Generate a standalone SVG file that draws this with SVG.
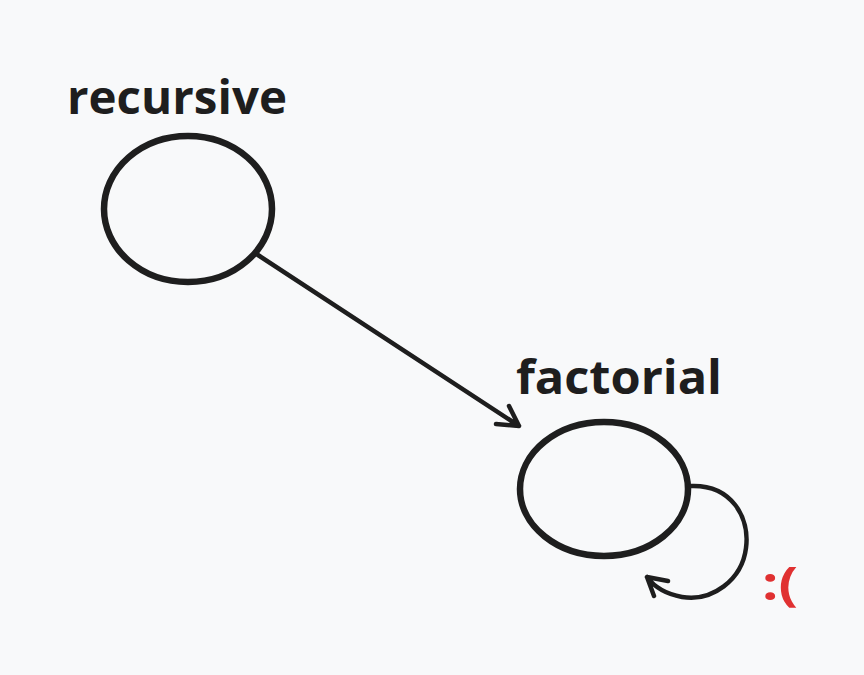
<svg xmlns="http://www.w3.org/2000/svg" width="864" height="675" viewBox="0 0 864 675">
<style>
.bg{fill:#f8f9fa}
.node{fill:none;stroke:#1e1e1e;stroke-width:6.5}
.edge{fill:none;stroke:#1e1e1e;stroke-width:4.5;stroke-linecap:round;stroke-linejoin:round}
.lbl{font-family:"Open Sans","Liberation Sans",sans-serif;font-weight:bold;font-size:46px;fill:#1e1e1e}
.sad{font-family:"Open Sans","Liberation Sans",sans-serif;font-weight:bold;font-size:46px;fill:#e03131}
</style>
<rect class="bg" x="0" y="0" width="864" height="675"/>
<g id="recursive">
<ellipse class="node" cx="188" cy="209" rx="84" ry="73"/>
<text class="lbl" x="67" y="114" textLength="220" lengthAdjust="spacingAndGlyphs">recursive</text>
</g>
<g id="factorial">
<ellipse class="node" cx="604" cy="489" rx="84" ry="67"/>
<text class="lbl" x="516" y="394" textLength="206" lengthAdjust="spacingAndGlyphs">factorial</text>
</g>
<g id="connectors">
<path class="edge" d="M258,255 L519,426 M496,424 L519,426 L509,406"/>
<path class="edge" d="M690,486 C732,484 750,518 746,548 C742,580 712,602 682,597 C666,594 655,588 647,577 M668,581 L647,577 L654,596"/>
</g>
<text class="sad" x="762" y="600" textLength="36" lengthAdjust="spacingAndGlyphs">:(</text>
</svg>
